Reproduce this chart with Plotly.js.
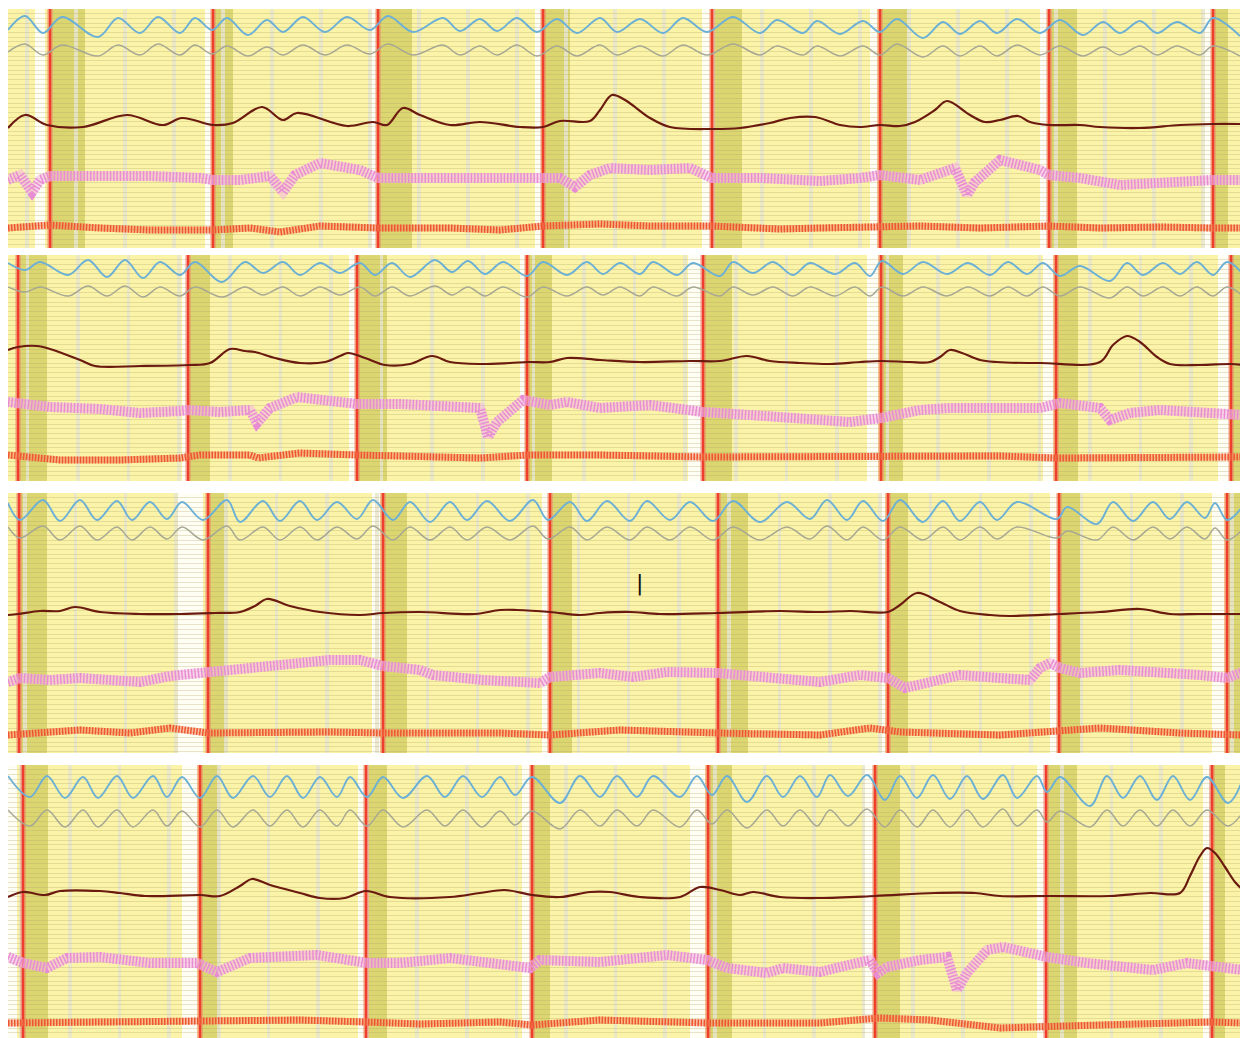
<!DOCTYPE html>
<html><head><meta charset="utf-8">
<script src="https://cdn.plot.ly/plotly-3.0.1.min.js"></script>
<style>html,body{margin:0;padding:0;background:#fff;overflow:hidden}</style>
</head><body><div id="chart" style="width:1243px;height:1038px"></div>
<script>
// ---- Strip 1 ----
const s1Ext  = [8,25,43,62,98,118,140,158,180,195,212,227,248,267,283,303,325,347,370,388,413,443,460,480,497,517,537,557,577,600,617,640,663,683,707,733,760,777,803,817,840,863,880,897,923,943,960,980,997,1017,1040,1060,1083,1103,1120,1140,1157,1177,1200,1213,1240];
const s1Blue = [30,16,33,17,37,18,33,17,33,18,30,18,35,20,32,17,32,17,30,16,32,18,31,19,31,18,32,19,33,18,32,19,33,18,32,17,33,20,33,21,34,21,32,19,38,22,34,21,33,19,33,20,35,22,33,21,33,22,33,18,36];
const s1Grey = [52,44,55,45,56,45,55,44,55,45,54,46,56,47,55,45,55,45,54,44,55,45,55,46,55,45,56,46,56,45,55,46,56,45,55,44,55,46,55,46,56,46,55,44,57,46,56,46,56,45,55,46,56,47,55,46,55,46,55,46,56];
const s1BrownT = [8,25,47,83,127,163,182,213,233,262,283,297,347,373,387,403,420,450,480,520,543,560,590,600,612,625,650,670,712,740,770,790,815,840,860,880,900,915,935,947,970,985,1000,1018,1030,1049,1080,1100,1140,1180,1213,1240];
const s1BrownV = [128,115,125,127,115,125,118,125,123,107,120,113,126,122,125,108,115,125,122,127,127,121,121,110,95,100,118,127,129,128,123,118,117,125,127,125,126,122,110,101,115,122,120,116,122,125,125,127,128,125,124,124];
const s1PinkT = [8,20,32,40,50,100,150,200,213,240,270,283,295,320,360,378,410,450,520,543,560,575,590,610,650,690,712,760,800,820,860,880,920,955,967,975,1000,1040,1049,1080,1120,1160,1213,1243];
const s1PinkV = [180,175,192,180,176,175,176,178,180,180,176,192,175,163,170,178,178,178,177,178,178,187,175,168,170,168,178,178,180,181,178,175,180,168,195,182,160,170,175,178,185,182,180,180];
const s1RedT = [8,50,100,150,213,250,280,320,378,420,450,500,543,600,650,712,780,820,860,920,980,1049,1100,1160,1213,1243];
const s1RedV = [228,225,228,230,230,228,232,226,228,228,228,230,226,224,226,226,229,228,227,226,228,226,228,227,228,228];
const s1Beats = [50,213,378,543,712,880,1049,1213];
const s1OliveEnd = [85,233,412,570,742,907,1077,1228];
const s1WhiteA = [35,205,370,535,702,870,1040,1203];
const s1WhiteB = [45,211,376,541,710,877,1047,1211];

// ---- Strip 2 ----
const s2Ext  = [8,25,40,68,88,107,125,143,160,180,195,222,245,263,283,300,320,340,360,375,392,410,435,452,468,485,503,527,543,567,587,603,620,640,653,677,693,720,733,753,773,793,810,835,855,870,882,903,923,947,968,990,1008,1027,1043,1060,1080,1110,1127,1143,1163,1180,1197,1213,1227,1243];
const s2Blue = [263,270,262,275,260,277,260,278,262,275,262,282,262,273,262,275,263,273,263,275,263,277,260,272,261,274,262,276,262,275,262,274,263,274,262,275,263,276,262,273,262,275,263,274,263,276,261,274,262,274,263,275,262,274,263,276,266,281,263,275,263,274,262,275,262,274];
const s2Grey = [287,292,287,296,286,296,286,297,287,296,287,297,287,295,287,296,287,295,287,296,287,296,286,295,287,296,287,297,287,296,287,295,287,296,287,296,287,296,287,295,287,296,287,296,287,296,287,296,287,296,287,296,287,296,287,296,287,298,287,296,287,296,287,296,287,296];
const s2BrownT = [8,18,37,50,80,95,140,188,210,230,245,255,275,300,325,340,348,365,385,410,432,450,480,510,528,550,567,600,640,690,720,747,770,800,830,860,881,910,930,940,950,962,980,997,1040,1100,1113,1127,1140,1157,1170,1200,1231,1243];
const s2BrownV = [350,347,346,349,360,366,366,365,363,349,351,352,358,363,362,356,353,358,365,364,356,362,364,363,362,362,358,360,362,361,361,356,361,363,364,362,361,362,362,357,350,353,360,362,363,362,345,336,342,357,364,365,364,365];
const s2PinkT = [8,20,50,100,140,180,188,220,250,257,270,297,340,357,400,450,480,488,497,523,550,567,600,650,700,703,750,800,820,850,881,920,950,1000,1040,1060,1100,1110,1130,1160,1200,1231,1243];
const s2PinkV = [402,404,407,409,413,411,410,412,410,423,408,397,402,404,404,408,408,437,422,400,405,402,408,405,412,412,415,418,418,422,418,410,408,409,408,403,408,420,413,410,413,414,415];
const s2RedT = [8,60,120,180,200,250,258,300,357,420,480,528,600,703,800,880,1000,1056,1150,1243];
const s2RedV = [455,460,460,458,455,455,458,453,455,457,458,455,455,457,457,456,456,458,458,457];
const s2Beats = [18,188,357,527,703,881,1056,1231];
const s2OliveEnd = [47,210,387,552,732,903,1078,1240];
const s2WhiteA = [182,349,520,688,867,1043,1218];
const s2WhiteB = [187,355,525,702,878,1053,1229];

// ---- Strip 3 ----
const s3Ext  = [8,20,43,60,80,97,117,132,150,167,182,203,227,240,263,280,300,317,337,357,373,393,410,430,450,467,487,510,533,548,570,587,607,630,647,670,690,713,733,760,787,810,827,847,863,883,900,923,943,960,980,997,1017,1057,1067,1097,1113,1133,1153,1170,1187,1205,1215,1227,1243];
const s3Blue = [503,520,500,521,500,520,501,520,502,519,502,520,500,522,501,521,501,520,502,519,500,520,502,522,502,520,501,521,500,520,502,521,501,521,501,520,502,521,501,522,502,519,500,520,501,521,500,522,501,521,502,520,502,519,507,524,502,521,502,519,502,518,503,520,506];
const s3Grey = [527,538,526,540,526,540,527,540,527,539,527,540,526,540,527,540,527,540,527,539,526,540,527,540,527,540,527,540,526,539,527,540,527,540,527,540,527,540,527,540,527,539,526,540,527,540,527,540,527,540,527,539,527,538,531,540,527,540,527,539,527,539,528,540,529];
const s3BrownT = [8,18,40,60,75,100,140,180,215,240,255,267,290,320,360,383,420,475,500,517,550,580,600,630,660,718,780,820,850,888,900,917,940,960,990,1010,1060,1100,1140,1170,1200,1243];
const s3BrownV = [615,614,611,611,607,612,614,614,613,612,606,599,606,612,615,613,612,614,610,610,612,615,613,612,614,613,611,612,611,612,605,593,602,611,615,616,614,612,609,614,614,614];
const s3PinkT = [8,20,50,80,110,140,170,208,250,280,330,360,383,420,433,483,540,550,600,633,667,717,767,820,860,888,905,920,960,1000,1030,1040,1050,1060,1080,1120,1160,1200,1227,1243];
const s3PinkV = [682,678,680,678,680,682,676,672,668,663,660,660,666,670,675,680,683,677,673,677,672,673,678,682,675,678,688,685,675,678,680,668,663,668,673,670,672,675,678,672];
const s3RedT = [8,40,80,130,170,208,280,330,383,420,500,550,620,718,820,870,900,1000,1100,1180,1243];
const s3RedV = [735,733,730,733,728,733,732,732,733,733,733,735,730,733,735,728,732,735,728,733,735];
const s3Beats = [19,208,383,550,718,888,1059,1227];
const s3OliveEnd = [47,228,407,572,748,908,1080,1240];
const s3WhiteA = [178,372,542,879,1050,1212];
const s3WhiteB = [203,380,548,885,1057,1224];

// ---- Strip 4 ----
const s4Ext  = [8,30,47,65,83,98,117,133,153,167,182,200,217,233,253,270,287,303,320,337,350,367,383,403,427,445,463,482,500,515,532,560,580,600,617,637,653,680,697,712,727,747,767,783,800,817,830,848,867,885,900,917,933,950,967,983,1003,1017,1037,1047,1060,1090,1107,1123,1140,1157,1173,1190,1207,1228,1243];
const s4Blue = [776,797,776,798,777,798,776,798,776,797,777,798,776,798,776,797,776,798,777,797,777,797,777,798,776,797,776,797,777,795,777,803,776,797,776,797,776,797,776,795,776,802,776,797,776,797,775,796,775,800,776,798,775,799,776,799,775,798,776,792,777,806,776,798,776,800,776,800,777,803,779];
const s4Grey = [810,826,810,827,810,827,810,827,810,826,811,827,810,827,810,826,810,827,810,826,810,826,810,827,810,826,810,827,811,825,811,829,810,826,810,826,810,827,810,824,810,828,810,826,810,826,810,826,809,827,810,827,810,827,810,827,809,826,810,822,811,827,810,826,810,826,810,826,810,826,812];
const s4BrownT = [8,23,45,60,100,120,145,200,220,240,252,270,300,320,345,366,390,450,480,505,532,560,590,610,640,680,700,720,740,753,780,820,875,935,975,1000,1050,1110,1150,1180,1190,1200,1207,1215,1225,1235,1243];
const s4BrownV = [897,892,895,891,891,893,896,895,896,886,879,885,893,898,898,891,897,897,893,890,895,897,892,892,897,897,887,890,895,892,897,898,896,893,893,896,896,896,893,893,876,856,848,853,867,882,890];
const s4PinkT = [8,23,47,67,100,150,197,217,250,317,367,400,450,530,540,600,667,707,727,767,783,820,840,870,878,887,920,947,957,967,987,1003,1047,1087,1153,1187,1243];
const s4PinkV = [957,963,968,958,957,963,963,972,958,955,963,963,958,968,960,962,955,960,968,973,968,972,967,960,973,967,960,957,990,973,950,947,957,963,970,963,970];
const s4RedT = [8,100,200,300,366,420,500,532,600,708,820,880,930,1000,1100,1212,1243];
const s4RedV = [1023,1022,1022,1020,1022,1024,1022,1025,1020,1023,1023,1018,1020,1028,1025,1022,1023];
const s4Beats = [23,200,366,532,708,875,1046,1212];
const s4OliveEnd = [48,220,387,550,732,900,1077,1225];
const s4WhiteA = [8,182,358,522,690,863,1037,1203];
const s4WhiteB = [17,197,364,530,705,873,1045,1210];

// strip frames (top / bottom of each strip, and grid pitch)
const stripTop = [9, 255, 493, 765];
const stripBottom = [248, 481, 753, 1038];
const gridStart = [27, 27.4, 25, 20.4];
const gridStep = [49, 50.6, 50.3, 49.6];

const strips = [
  {ext:s1Ext, blue:s1Blue, grey:s1Grey, bT:s1BrownT, bV:s1BrownV, pT:s1PinkT, pV:s1PinkV, rT:s1RedT, rV:s1RedV, beats:s1Beats, olive:s1OliveEnd, wA:s1WhiteA, wB:s1WhiteB},
  {ext:s2Ext, blue:s2Blue, grey:s2Grey, bT:s2BrownT, bV:s2BrownV, pT:s2PinkT, pV:s2PinkV, rT:s2RedT, rV:s2RedV, beats:s2Beats, olive:s2OliveEnd, wA:s2WhiteA, wB:s2WhiteB},
  {ext:s3Ext, blue:s3Blue, grey:s3Grey, bT:s3BrownT, bV:s3BrownV, pT:s3PinkT, pV:s3PinkV, rT:s3RedT, rV:s3RedV, beats:s3Beats, olive:s3OliveEnd, wA:s3WhiteA, wB:s3WhiteB},
  {ext:s4Ext, blue:s4Blue, grey:s4Grey, bT:s4BrownT, bV:s4BrownV, pT:s4PinkT, pV:s4PinkV, rT:s4RedT, rV:s4RedV, beats:s4Beats, olive:s4OliveEnd, wA:s4WhiteA, wB:s4WhiteB}
];

const W = 1243, H = 1038;
const traces = [];
const shapes = [];
const layout = {
  width: W, height: H,
  margin: {l:0, r:0, t:0, b:0},
  paper_bgcolor: '#ffffff',
  plot_bgcolor: '#fbf4a8',
  showlegend: false,
  shapes: shapes,
  annotations: []
};

strips.forEach((s, i) => {
  const n = i + 1;
  const xa = 'x' + (n === 1 ? '' : n);
  const ya = 'y' + (n === 1 ? '' : n);
  const top = stripTop[i], bot = stripBottom[i];
  layout['xaxis' + (n === 1 ? '' : n)] = {
    domain: [8 / W, 1240 / W], range: [8, 1240], anchor: ya,
    showticklabels: false, ticks: '', zeroline: false, showline: false,
    showgrid: true, tickmode: 'linear', tick0: gridStart[i], dtick: gridStep[i],
    gridcolor: 'rgba(232,229,206,0.85)', gridwidth: 3.5, fixedrange: true
  };
  layout['yaxis' + (n === 1 ? '' : n)] = {
    domain: [(H - bot) / H, (H - top) / H], range: [bot, top], anchor: xa,
    showticklabels: false, ticks: '', zeroline: false, showline: false,
    showgrid: true, tickmode: 'linear', tick0: top, dtick: 4.7,
    gridcolor: 'rgba(180,168,110,0.32)', gridwidth: 1, fixedrange: true
  };
  // white gaps before beats
  s.wA.forEach((a, k) => shapes.push({type:'rect', layer:'below', xref:xa, yref:ya,
    x0:a, x1:s.wB[k], y0:bot, y1:top, line:{width:0}, fillcolor:'rgba(255,255,252,0.9)'}));
  // olive shaded windows after beats
  s.beats.forEach((b, k) => shapes.push({type:'rect', layer:'below', xref:xa, yref:ya,
    x0:b, x1:s.olive[k], y0:bot, y1:top, line:{width:0}, fillcolor:'#dcd670'}));
  // beat markers
  const bx = [], by = [];
  s.beats.forEach(b => { bx.push(b, b, null); by.push(bot, top, null); });
  traces.push({x:bx, y:by, xaxis:xa, yaxis:ya, mode:'lines', hoverinfo:'skip',
    line:{color:'rgba(242,120,105,0.4)', width:6}});
  traces.push({x:bx, y:by, xaxis:xa, yaxis:ya, mode:'lines', hoverinfo:'skip',
    line:{color:'#ee3f2e', width:2.6}});
  // red (bottom) channel
  traces.push({x:s.rT, y:s.rV, xaxis:xa, yaxis:ya, mode:'lines', hoverinfo:'skip',
    line:{color:'rgba(246,140,100,0.5)', width:7}});
  traces.push({x:s.rT, y:s.rV, xaxis:xa, yaxis:ya, mode:'lines', hoverinfo:'skip',
    line:{color:'#ee5630', width:7, dash:'1.5px,1.5px'}});
  // pink channel
  traces.push({x:s.pT, y:s.pV, xaxis:xa, yaxis:ya, mode:'lines', hoverinfo:'skip',
    line:{color:'rgba(244,180,228,0.55)', width:10}});
  traces.push({x:s.pT, y:s.pV, xaxis:xa, yaxis:ya, mode:'lines', hoverinfo:'skip',
    line:{color:'#e88dd4', width:10, dash:'1.5px,1.8px'}});
  // brown channel
  traces.push({x:s.bT, y:s.bV, xaxis:xa, yaxis:ya, mode:'lines', hoverinfo:'skip',
    line:{color:'#6b1a10', width:2.2, shape:'spline', smoothing:1}});
  // grey channel
  traces.push({x:s.ext, y:s.grey, xaxis:xa, yaxis:ya, mode:'lines', hoverinfo:'skip',
    line:{color:'#a6a894', width:1.5, shape:'spline', smoothing:1}});
  // blue channel
  traces.push({x:s.ext, y:s.blue, xaxis:xa, yaxis:ya, mode:'lines', hoverinfo:'skip',
    line:{color:'#6cb0d6', width:1.9, shape:'spline', smoothing:1}});
});

layout.annotations.push({xref:'x3', yref:'y3', x:639, y:583, text:'|', showarrow:false,
  font:{family:'DejaVu Sans', size:22, color:'#111111'}});

Plotly.newPlot('chart', traces, layout, {staticPlot:true, displayModeBar:false});
</script>
</body></html>
